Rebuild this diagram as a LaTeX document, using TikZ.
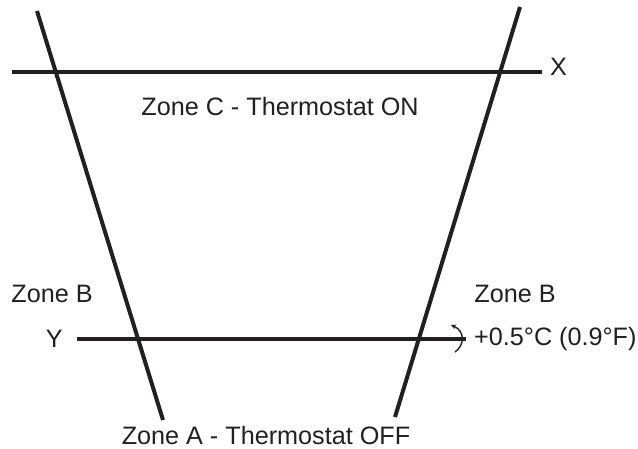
\documentclass[tikz,border=0pt]{standalone}
\usepackage{fontspec}
\setmainfont{Liberation Sans}
\usepackage{xcolor}
\usepackage{tikz}
\usetikzlibrary{
  arrows.meta,
  positioning
}
\definecolor{ink}{HTML}{231F20}
\tikzset{
  >={Stealth[length=5pt,width=5pt]},
  zone line/.style={draw=ink,line width=4pt},
  offset arc/.style={draw=ink,line width=1.4pt,->},
  zone label/.style={font=\fontsize{25.2}{30}\selectfont,text=ink,inner sep=0pt,align=center}
}

\begin{document}
\begin{tikzpicture}[x=1pt,y=-1pt]
  \useasboundingbox (0,0) rectangle (638,448);

  % band edges
  \coordinate (lefttop) at (37,11);
  \coordinate (leftbot) at (163,420);
  \coordinate (righttop) at (520,7);
  \coordinate (rightbot) at (395,417);

  % set points
  \coordinate (xstart) at (12,72);
  \coordinate (xend) at (542,72);
  \coordinate (ystart) at (77,339);
  \coordinate (yend) at (466,339);

  \draw[zone line] (lefttop) -- (leftbot);
  \draw[zone line] (righttop) -- (rightbot);
  \draw[zone line] (xstart) -- (xend);
  \draw[zone line] (ystart) -- (yend);

  \node[zone label,anchor=west] (xlabel) at (550,67) {X};
  \node[zone label,anchor=east] (ylabel) at (63,339) {Y};

  \coordinate (arcbot) at (455,352);
  \coordinate (arctop) at (451,325);
  \draw[offset arc] (arcbot) .. controls (465,345) and (465,331) .. (arctop);
  \node[zone label,anchor=west] (offset) at (474,339) {+0.5°C (0.9°F)};

  \node[zone label] (zonec) at (280,106) {Zone C - Thermostat ON};
  \node[zone label] (zonebl) at (52,294) {Zone B};
  \node[zone label] (zonebr) at (515,294) {Zone B};
  \node[zone label] (zonea) at (266,435) {Zone A - Thermostat OFF};
\end{tikzpicture}
\end{document}
